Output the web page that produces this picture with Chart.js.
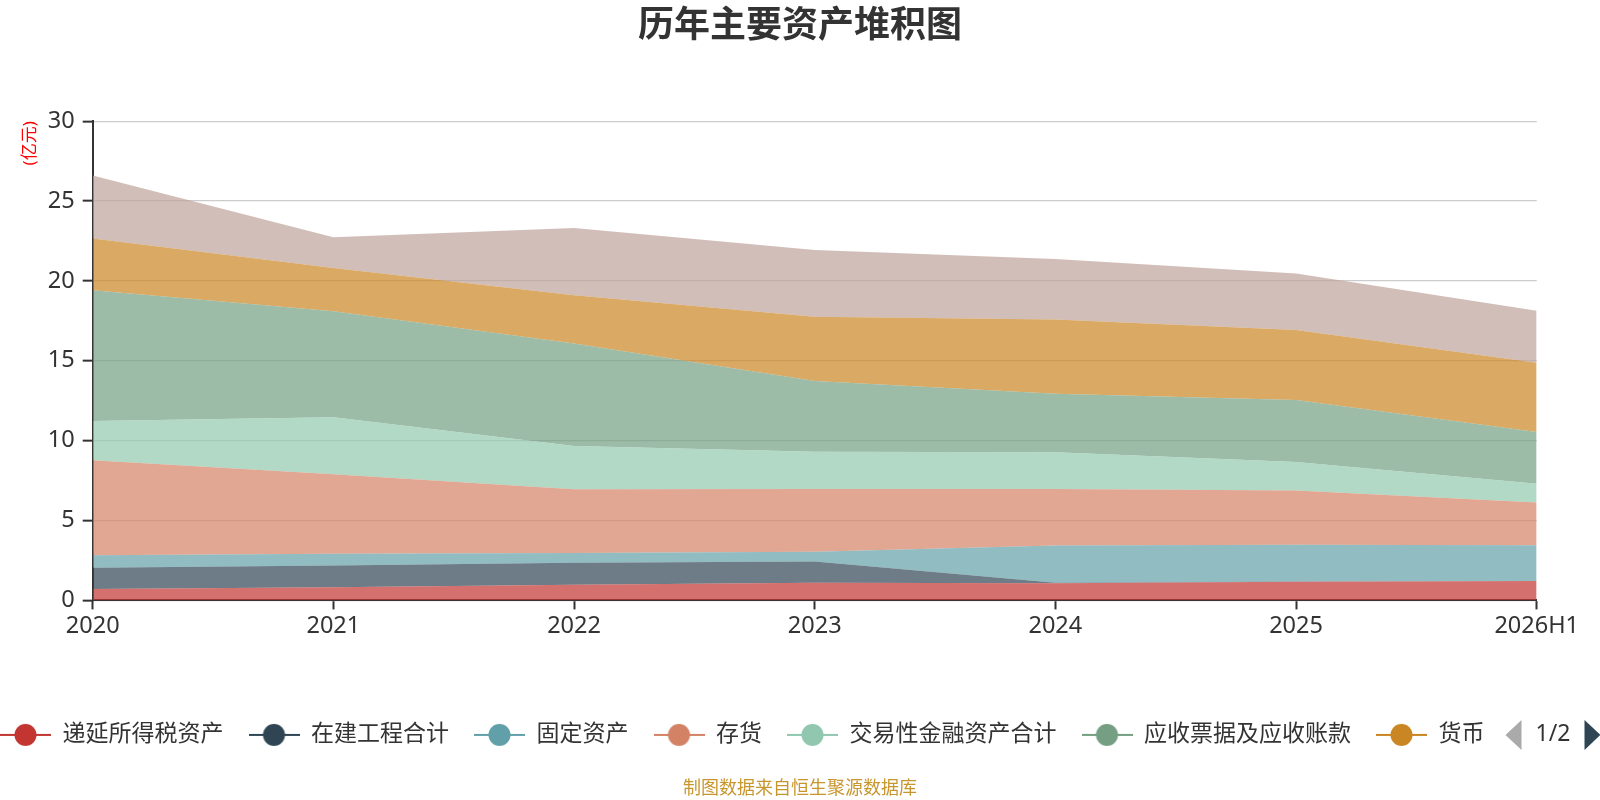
<!DOCTYPE html>
<html>
<head>
<meta charset="utf-8">
<title>历年主要资产堆积图</title>
<script src="https://cdn.jsdelivr.net/npm/chart.js@4/dist/chart.umd.min.js"></script>
<style>
    html, body { margin: 0; padding: 0; background: #fff; }
    #wrap { width: 1600px; height: 800px; position: relative; }
</style>
</head>
<body>
<div id="wrap"><canvas id="myChart"></canvas></div>
<script>
// categories
const years = ['2020', '2021', '2022', '2023', '2024', '2025', '2026H1'];

// series values (亿元)
const deferredTax = [0.71, 0.83, 0.98, 1.10, 1.08, 1.17, 1.21];
const construction = [1.33, 1.36, 1.37, 1.34, 0.02, 0.02, 0.01];
const fixedAssets = [0.79, 0.73, 0.61, 0.60, 2.34, 2.29, 2.24];
const inventory = [5.94, 4.98, 4.00, 3.94, 3.54, 3.40, 2.67];
const tradingFinance = [2.46, 3.56, 2.71, 2.33, 2.29, 1.78, 1.17];
const receivables = [8.19, 6.64, 6.41, 4.42, 3.67, 3.89, 3.25];
const cash = [3.23, 2.71, 3.02, 4.02, 4.64, 4.38, 4.33];
const otherAssets = [3.95, 1.92, 4.21, 4.19, 3.80, 3.54, 3.25];

const seriesNames = ['递延所得税资产', '在建工程合计', '固定资产', '存货', '交易性金融资产合计', '应收票据及应收账款', '货币', '其他资产'];
const seriesData = [deferredTax, construction, fixedAssets, inventory, tradingFinance, receivables, cash, otherAssets];
const colors = ['#c23531', '#2f4554', '#61a0a8', '#d48265', '#91c7ae', '#749f83', '#ca8622', '#bda29a'];

const FONT = '"Noto Sans", "Noto Sans CJK SC", sans-serif';
const LEGEND_PAD = 25;
const LEGEND_FONT = 23;
const TICK_FONT = 23.5;

function hexToRgba(hex, a) {
    const n = parseInt(hex.slice(1), 16);
    return `rgba(${(n >> 16) & 255}, ${(n >> 8) & 255}, ${n & 255}, ${a})`;
}

// legend icon: line with a circle in the middle
function makeIcon(color) {
    const c = document.createElement('canvas');
    c.width = 51;
    c.height = 24;
    const g = c.getContext('2d');
    g.strokeStyle = color;
    g.lineWidth = 2;
    g.beginPath();
    g.moveTo(0, 12);
    g.lineTo(51, 12);
    g.stroke();
    g.fillStyle = color;
    g.beginPath();
    g.arc(25.5, 12, 11, 0, Math.PI * 2);
    g.fill();
    return c;
}

const datasets = seriesNames.map((name, i) => ({
    label: name,
    data: seriesData[i],
    backgroundColor: hexToRgba(colors[i], 0.7),
    borderColor: colors[i],
    borderWidth: 0,
    pointRadius: 0,
    pointHoverRadius: 0,
    pointStyle: makeIcon(colors[i]),
    fill: i === 0 ? 'origin' : '-1',
    tension: 0,
}));

// legend starts at the left edge, paging arrows after the last item
const legendPager = {
    id: 'legendPager',
    afterLayout(chart) {
        chart.legend.left = -LEGEND_PAD;
    },
    afterDraw(chart) {
        const boxes = chart.legend.legendHitBoxes;
        if (!boxes || !boxes.length) return;
        const last = boxes[boxes.length - 1];
        const endX = last.left + last.width;
        const cy = last.top + LEGEND_FONT / 2;
        const ctx = chart.ctx;
        ctx.save();
        // left arrow (inactive)
        ctx.fillStyle = '#aaaaaa';
        ctx.beginPath();
        ctx.moveTo(endX + 21, cy);
        ctx.lineTo(endX + 37, cy - 15);
        ctx.lineTo(endX + 37, cy + 15);
        ctx.closePath();
        ctx.fill();
        // page text
        ctx.fillStyle = '#333';
        ctx.font = `${LEGEND_FONT}px ${FONT}`;
        ctx.textBaseline = 'middle';
        ctx.textAlign = 'left';
        ctx.fillText('1/2', endX + 51, cy);
        // right arrow (active)
        ctx.fillStyle = '#2f4554';
        ctx.beginPath();
        ctx.moveTo(endX + 116, cy);
        ctx.lineTo(endX + 100, cy - 15);
        ctx.lineTo(endX + 100, cy + 15);
        ctx.closePath();
        ctx.fill();
        ctx.restore();
    }
};

const ctx = document.getElementById('myChart').getContext('2d');

const myChart = new Chart(ctx, {
    type: 'line',
    data: {
        labels: years,
        datasets: datasets,
    },
    options: {
        responsive: true,
        maintainAspectRatio: false,
        animation: false,
        events: [],
        layout: { padding: 0 },
        plugins: {
            title: {
                display: true,
                text: '历年主要资产堆积图',
                color: '#333',
                font: { family: FONT, size: 36, weight: 'bold' },
                padding: { top: 5, bottom: 73 },
            },
            subtitle: {
                display: true,
                position: 'bottom',
                text: '制图数据来自恒生聚源数据库',
                color: '#c8962e',
                font: { family: FONT, size: 18 },
                padding: { top: 22, bottom: 0 },
            },
            legend: {
                display: true,
                position: 'bottom',
                align: 'start',
                labels: {
                    usePointStyle: true,
                    pointStyleWidth: 51,
                    padding: LEGEND_PAD,
                    color: '#333',
                    font: { family: FONT, size: LEGEND_FONT },
                    filter: item => item.datasetIndex < 7,
                },
            },
            tooltip: { enabled: false },
        },
        scales: {
            x: {
                type: 'category',
                offset: false,
                grid: {
                    display: true,
                    drawOnChartArea: false,
                    drawTicks: true,
                    tickLength: 9,
                    tickColor: '#333',
                    tickWidth: 2,
                },
                border: { display: true, color: '#333', width: 2 },
                ticks: {
                    color: '#333',
                    font: { family: FONT, size: TICK_FONT },
                    padding: 3,
                    maxRotation: 0,
                    autoSkip: false,
                },
                afterFit(scale) {
                    scale.height = 98;
                    scale.paddingRight = 63.3;
                },
            },
            y: {
                stacked: true,
                min: 0,
                max: 30,
                ticks: {
                    stepSize: 5,
                    color: '#333',
                    font: { family: FONT, size: TICK_FONT },
                    padding: 8,
                },
                grid: {
                    color: '#cccccc',
                    lineWidth: 1.3,
                    tickLength: 10,
                    tickColor: '#333',
                    tickWidth: 2,
                },
                border: { display: true, color: '#333', width: 2 },
                title: {
                    display: true,
                    text: '(亿元)',
                    color: '#ff0000',
                    align: 'end',
                    font: { family: FONT, size: 17 },
                    padding: { top: 20, bottom: 0 },
                },
                afterFit(scale) {
                    scale.width = 92.7;
                },
            },
        },
    },
    plugins: [legendPager],
});
</script>
</body>
</html>
